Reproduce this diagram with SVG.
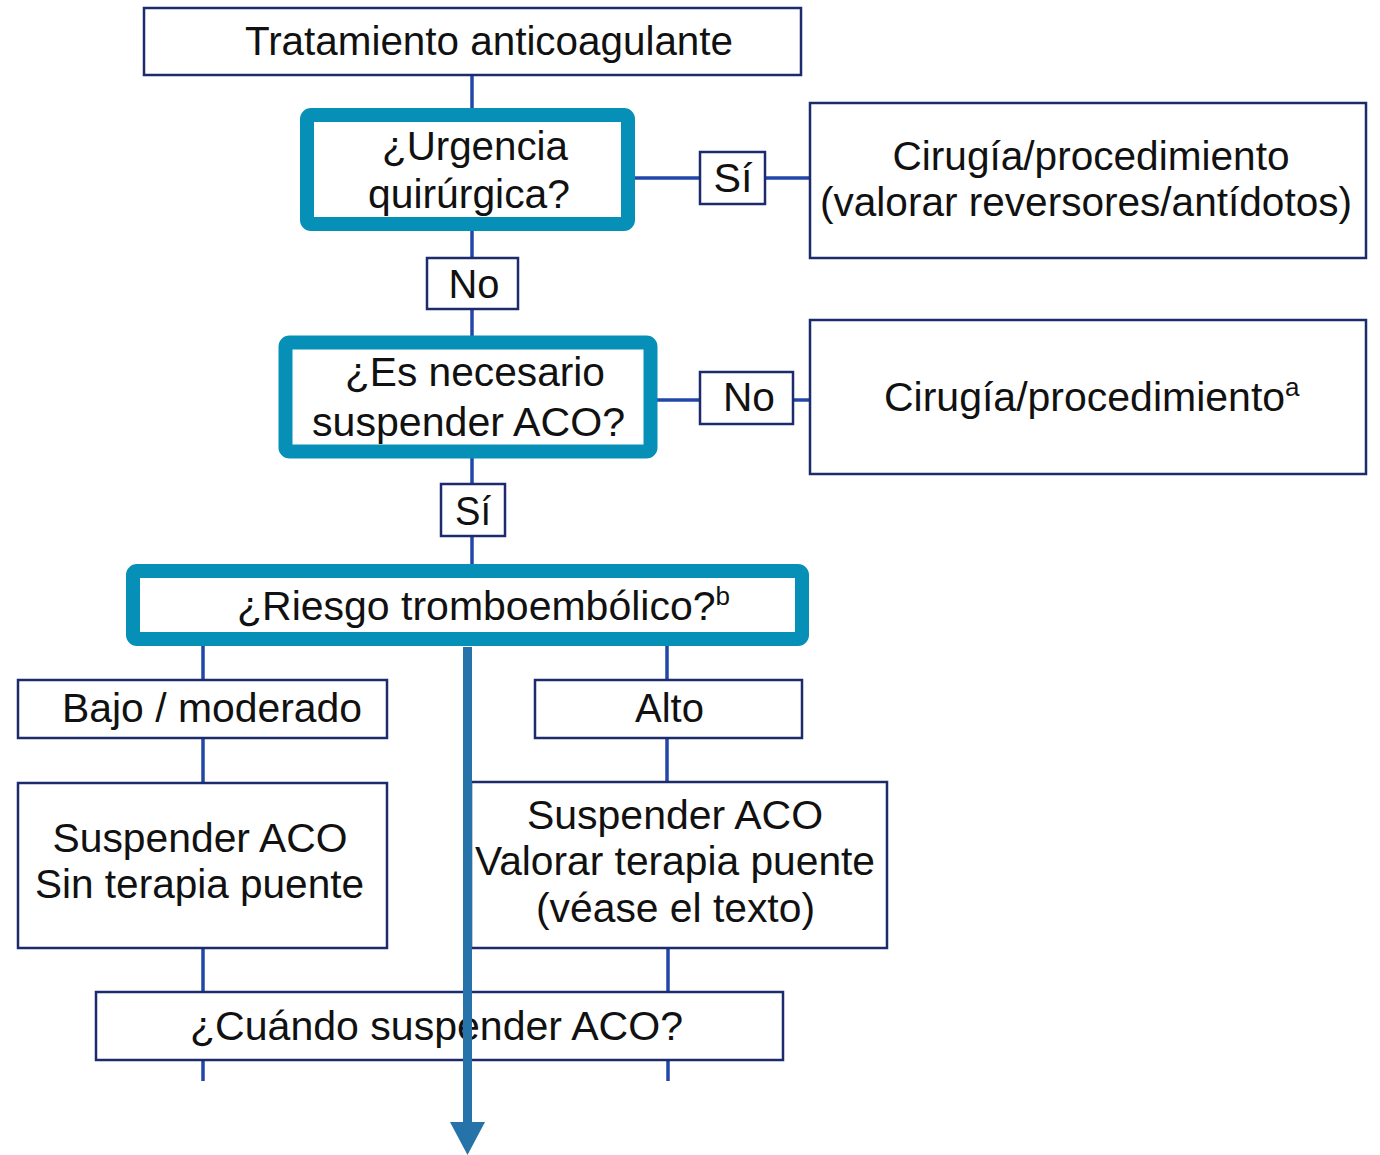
<svg xmlns="http://www.w3.org/2000/svg" width="1380" height="1155" viewBox="0 0 1380 1155">
<style>
.box{fill:#fff;stroke:#1b2b6b;stroke-width:2.5}
.hl{fill:#fff;stroke:#0690b8;stroke-width:14}
.ln{stroke:#2347a8;stroke-width:3.5;fill:none}
text{font-family:"Liberation Sans",Arial,sans-serif;font-size:40px;fill:#111;text-anchor:middle}
.sup{font-size:26px}
</style>
<rect width="1380" height="1155" fill="#fff"/>
<g id="connectors">
<line class="ln" x1="472" y1="75" x2="472" y2="110"/>
<line class="ln" x1="472" y1="229" x2="472" y2="258"/>
<line class="ln" x1="472" y1="309" x2="472" y2="338"/>
<line class="ln" x1="472" y1="456" x2="472" y2="484"/>
<line class="ln" x1="472" y1="536" x2="472" y2="566"/>
<line class="ln" x1="633" y1="178" x2="700" y2="178"/>
<line class="ln" x1="765" y1="178" x2="810" y2="178"/>
<line class="ln" x1="655" y1="400" x2="700" y2="400"/>
<line class="ln" x1="793" y1="400" x2="810" y2="400"/>
<line class="ln" x1="203" y1="644" x2="203" y2="680"/>
<line class="ln" x1="667" y1="644" x2="667" y2="680"/>
<line class="ln" x1="203" y1="738" x2="203" y2="783"/>
<line class="ln" x1="667" y1="738" x2="667" y2="782"/>
<line class="ln" x1="203" y1="948" x2="203" y2="992"/>
<line class="ln" x1="668" y1="948" x2="668" y2="992"/>
<line class="ln" x1="203" y1="1060" x2="203" y2="1081"/>
<line class="ln" x1="668" y1="1060" x2="668" y2="1081"/>
</g>
<g id="n-tratamiento">
<rect class="box" x="144" y="8" width="657" height="67"/>
<text x="489" y="55" textLength="488" lengthAdjust="spacingAndGlyphs">Tratamiento anticoagulante</text>
</g>
<g id="n-urgencia">
<rect class="hl" x="307" y="115" width="321" height="109" rx="4"/>
<text x="475" y="160" textLength="186" lengthAdjust="spacingAndGlyphs">¿Urgencia</text>
<text x="469" y="208" textLength="202" lengthAdjust="spacingAndGlyphs">quirúrgica?</text>
</g>
<g id="l-si1">
<rect class="box" x="700" y="152" width="65" height="52"/>
<text x="733" y="192" textLength="39" lengthAdjust="spacingAndGlyphs">Sí</text>
</g>
<g id="n-cirugia1">
<rect class="box" x="810" y="103" width="556" height="155"/>
<text x="1091" y="170" textLength="397" lengthAdjust="spacingAndGlyphs">Cirugía/procedimiento</text>
<text x="1086" y="216" textLength="532" lengthAdjust="spacingAndGlyphs">(valorar reversores/antídotos)</text>
</g>
<g id="l-no1">
<rect class="box" x="427" y="258" width="91" height="51"/>
<text x="474" y="298" textLength="51" lengthAdjust="spacingAndGlyphs">No</text>
</g>
<g id="n-suspender">
<rect class="hl" x="285.5" y="342.5" width="365" height="109" rx="4"/>
<text x="475" y="386" textLength="260" lengthAdjust="spacingAndGlyphs">¿Es necesario</text>
<text x="468.5" y="436" textLength="313" lengthAdjust="spacingAndGlyphs">suspender ACO?</text>
</g>
<g id="l-no2">
<rect class="box" x="700" y="372" width="93" height="52"/>
<text x="749" y="411" textLength="52" lengthAdjust="spacingAndGlyphs">No</text>
</g>
<g id="n-cirugia2">
<rect class="box" x="810" y="320" width="556" height="154"/>
<text x="884" y="411" style="text-anchor:start;font-size:41px">Cirugía/procedimiento<tspan class="sup" dy="-15">a</tspan></text>
</g>
<g id="l-si2">
<rect class="box" x="441" y="484" width="64" height="52"/>
<text x="473" y="525" textLength="36" lengthAdjust="spacingAndGlyphs">Sí</text>
</g>
<g id="n-riesgo">
<rect class="hl" x="133" y="571" width="669" height="68" rx="4"/>
<text x="237" y="620" style="text-anchor:start;font-size:41px">¿Riesgo tromboembólico?<tspan class="sup" dy="-15">b</tspan></text>
</g>
<g id="l-bajo">
<rect class="box" x="18" y="680" width="369" height="58"/>
<text x="212" y="722" textLength="300" lengthAdjust="spacingAndGlyphs">Bajo / moderado</text>
</g>
<g id="l-alto">
<rect class="box" x="535" y="680" width="267" height="58"/>
<text x="669.5" y="722" textLength="69" lengthAdjust="spacingAndGlyphs">Alto</text>
</g>
<g id="n-sin-puente">
<rect class="box" x="18" y="783" width="369" height="165"/>
<text x="200" y="852" textLength="295" lengthAdjust="spacingAndGlyphs">Suspender ACO</text>
<text x="199.5" y="898" textLength="329" lengthAdjust="spacingAndGlyphs">Sin terapia puente</text>
</g>
<g id="n-valorar-puente">
<rect class="box" x="471" y="782" width="416" height="166"/>
<text x="675" y="829" textLength="296" lengthAdjust="spacingAndGlyphs">Suspender ACO</text>
<text x="675" y="875" textLength="400" lengthAdjust="spacingAndGlyphs">Valorar terapia puente</text>
<text x="675.5" y="922" textLength="279" lengthAdjust="spacingAndGlyphs">(véase el texto)</text>
</g>
<g id="n-cuando">
<rect class="box" x="96" y="992" width="687" height="68"/>
<text x="436.5" y="1040" textLength="493" lengthAdjust="spacingAndGlyphs">¿Cuándo suspender ACO?</text>
</g>
<g id="arrow">
<line x1="467.5" y1="647" x2="467.5" y2="1126" stroke="#2573a9" stroke-width="9"/>
<polygon points="450,1122 485,1122 467.5,1155" fill="#2573a9"/>
</g>
</svg>
